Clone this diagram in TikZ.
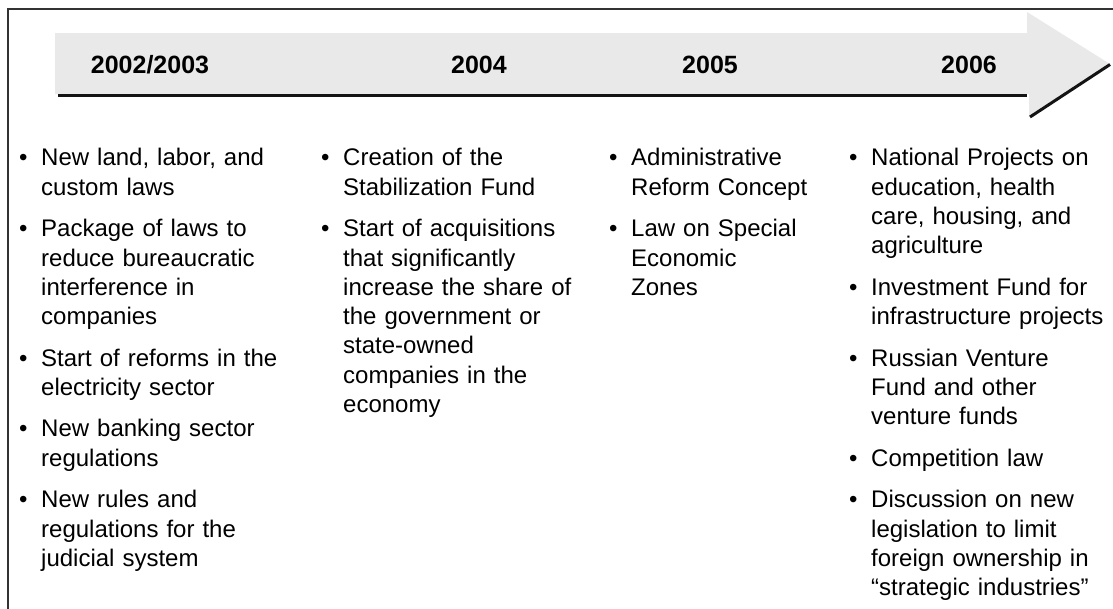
\documentclass[tikz,border=0pt]{standalone}
\usepackage{fontspec}
\setmainfont{Liberation Sans}
\definecolor{arrowgray}{HTML}{E9E9E9}
\definecolor{framegray}{HTML}{333333}
\newcommand\bitem[1]{\par\noindent\hangindent=22pt\hangafter=1\makebox[22pt][l]{\strut\textbullet}#1}
\newcommand\isep{\par\vspace{12.2pt}}
\begin{document}
\begin{tikzpicture}[x=1pt,y=-1pt,
  year/.style={font=\fontsize{25}{30}\selectfont\bfseries, anchor=base, inner sep=0pt},
  col/.style={anchor=north west, inner sep=0pt, text width=#1, font=\fontsize{24}{29.3}\selectfont},
  shadowline/.style={line width=3pt, black!92}
  ]
\useasboundingbox (0,0) rectangle (1113,608);
\fill[white] (0,0) rectangle (1113,608);
% frame
\draw[line width=1.2pt, framegray] (8,610) -- (8,9) -- (1114,9);
% timeline arrow
\fill[arrowgray] (55,33) -- (1027,33) -- (1027,12) -- (1110,64) -- (1029,117) -- (1029,94) -- (55,94) -- cycle;
\draw[shadowline] (58,95.3) -- (1027,95.3);
\draw[shadowline] (1030,117) -- (1110,64.5);
% years
\node[year] (y1) at (150,73) {2002/2003};
\node[year] (y2) at (479,73) {2004};
\node[year] (y3) at (710,73) {2005};
\node[year] (y4) at (969,73) {2006};
% columns
\node[col=290pt] (c1) at (19,136.49) {%
\bitem{New land, labor, and\newline custom laws}\isep
\bitem{Package of laws to\newline reduce bureaucratic\newline interference in\newline companies}\isep
\bitem{Start of reforms in the\newline electricity sector}\isep
\bitem{New banking sector\newline regulations}\isep
\bitem{New rules and\newline regulations for the\newline judicial system}\par};
\node[col=270pt] (c2) at (321,136.49) {%
\bitem{Creation of the\newline Stabilization Fund}\isep
\bitem{Start of acquisitions\newline that significantly\newline increase the share of\newline the government or\newline state-owned\newline companies in the\newline economy}\par};
\node[col=240pt] (c3) at (609,136.49) {%
\bitem{Administrative\newline Reform Concept}\isep
\bitem{Law on Special\newline Economic\newline Zones}\par};
\node[col=280pt] (c4) at (849,136.49) {%
\bitem{National Projects on\newline education, health\newline care, housing, and\newline agriculture}\isep
\bitem{Investment Fund for\newline infrastructure projects}\isep
\bitem{Russian Venture\newline Fund and other\newline venture funds}\isep
\bitem{Competition law}\isep
\bitem{Discussion on new\newline legislation to limit\newline foreign ownership in\newline “strategic industries”}\par};
\end{tikzpicture}
\end{document}
